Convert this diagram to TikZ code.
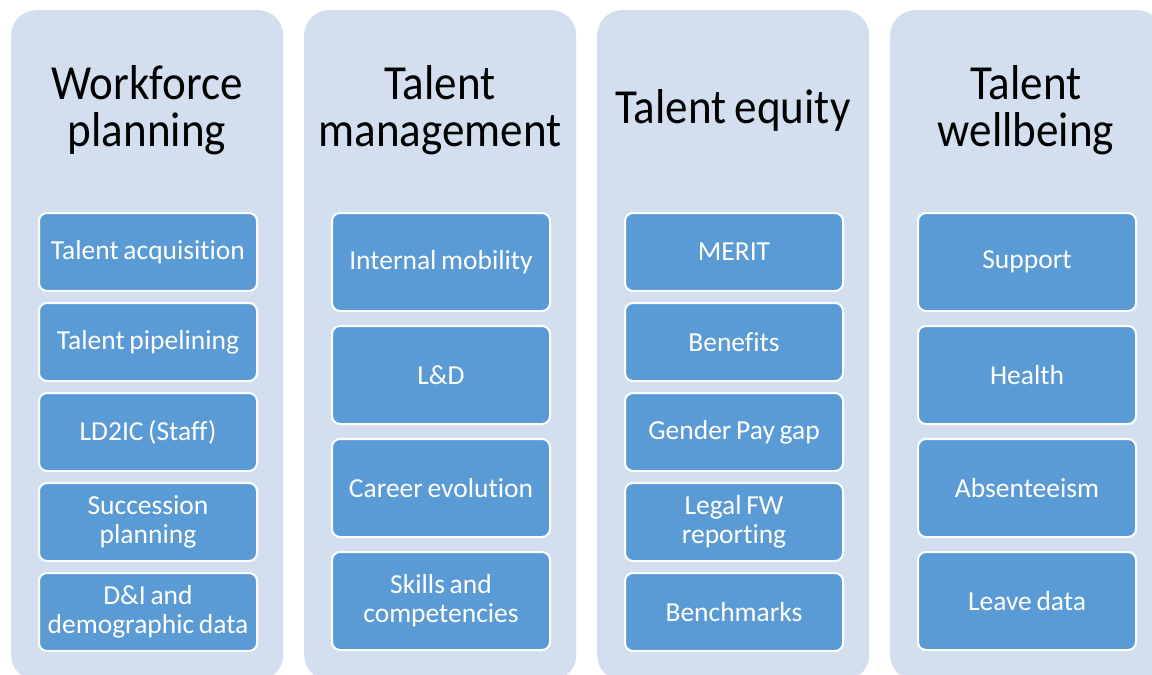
\documentclass[tikz,border=0pt]{standalone}
\usepackage{fontspec}
\setmainfont{Carlito}
\newfontfamily\titlefont[FakeStretch=0.92, Ligatures=NoCommon, WordSpace=0.8]{Carlito}
\newfontfamily\itemfont[Ligatures=NoCommon, WordSpace=0.75]{Carlito}
\definecolor{panelbg}{HTML}{D3DEEF}
\definecolor{itemfill}{HTML}{5B9BD5}
\begin{document}
\begin{tikzpicture}[x=1pt,y=-1pt,
  panel/.style={fill=panelbg, draw=none, rounded corners=25pt, anchor=north west,
    minimum width=272pt, minimum height=670pt, inner sep=0pt},
  heading/.style={align=center, font=\titlefont\fontsize{49}{47}\selectfont, text=black, inner sep=0pt},
  item/.style={fill=itemfill, draw=white, line width=2pt, rounded corners=8pt, anchor=north west,
    minimum width=218pt, align=center, inner sep=0pt, text=white,
    font=\itemfont\fontsize{27.5}{29}\selectfont},
  itemfive/.style={item, minimum height=78pt},
  itemfour/.style={item, minimum height=98pt}]
\useasboundingbox (0,0) rectangle (1152,675);
\clip (0,0) rectangle (1152,675);
\fill[white] (0,0) rectangle (1152,675);

% background panels
\node[panel] (p1) at (11,10) {};
\node[panel] (p2) at (304,10) {};
\node[panel] (p3) at (597,10) {};
\node[panel] (p4) at (890,10) {};

% headings
\node[heading] (h1) at (147,110) {Workforce\\planning};
\node[heading] (h2) at (440,110) {Talent\\management};
\node[heading] (h3) at (733,110) {Talent equity};
\node[heading] (h4) at (1026,110) {Talent\\wellbeing};

% Workforce planning
\node[itemfive] (a1) at (38,212) {Talent acquisition};
\node[itemfive] (a2) at (38,302) {Talent pipelining};
\node[itemfive] (a3) at (38,392) {LD2IC (Staff)};
\node[itemfive] (a4) at (38,482) {Succession\\planning};
\node[itemfive] (a5) at (38,572) {D\&I and\\demographic data};

% Talent management
\node[itemfour] (b1) at (331,212) {Internal mobility};
\node[itemfour] (b2) at (331,325) {L\&D};
\node[itemfour] (b3) at (331,438) {Career evolution};
\node[itemfour] (b4) at (331,551) {Skills and\\competencies};

% Talent equity
\node[itemfive] (c1) at (624,212) {MERIT};
\node[itemfive] (c2) at (624,302) {Benefits};
\node[itemfive] (c3) at (624,392) {Gender Pay gap};
\node[itemfive] (c4) at (624,482) {Legal FW\\reporting};
\node[itemfive] (c5) at (624,572) {Benchmarks};

% Talent wellbeing
\node[itemfour] (d1) at (917,212) {Support};
\node[itemfour] (d2) at (917,325) {Health};
\node[itemfour] (d3) at (917,438) {Absenteeism};
\node[itemfour] (d4) at (917,551) {Leave data};
\end{tikzpicture}
\end{document}
